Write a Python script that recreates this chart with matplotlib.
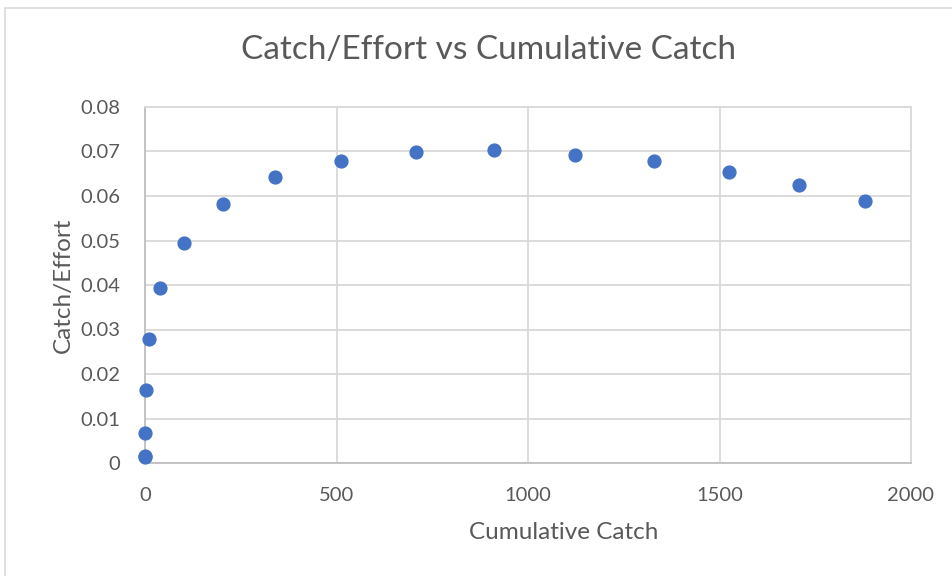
import matplotlib.pyplot as plt
from matplotlib.patches import Rectangle

# values
cum_catch = [0, 0.3, 0, 2, 11, 39, 103, 203, 340, 511, 707, 911, 1124, 1328, 1524, 1708, 1880]
catch_effort = [0.0013, 0.0016, 0.0068, 0.0165, 0.0279, 0.0394, 0.0495, 0.0581, 0.0642,
                0.0678, 0.0699, 0.0703, 0.0693, 0.0678, 0.0653, 0.0624, 0.0588]
x_ticks = [0, 500, 1000, 1500, 2000]
y_ticks = [0, 0.01, 0.02, 0.03, 0.04, 0.05, 0.06, 0.07, 0.08]
y_labels = ['0', '0.01', '0.02', '0.03', '0.04', '0.05', '0.06', '0.07', '0.08']

plt.rcParams['font.family'] = ['Lato', 'DejaVu Sans']
txt = '#595959'
grid = '#d9d9d9'

fig = plt.figure(figsize=(9.52, 5.76), dpi=100)
# chart area border (cut off on the right and bottom)
fig.patches.append(Rectangle((5 / 952, -0.1), 2, (568 + 58) / 576, transform=fig.transFigure,
                             fill=False, edgecolor='#d9d9d9', linewidth=1.2))

ax = fig.add_axes([145 / 952, 1 - 463 / 576, (911 - 145) / 952, (463 - 107) / 576])
ax.scatter(cum_catch, catch_effort, s=85, color='#4472C4', zorder=3, clip_on=False)

ax.set_xlim(0, 2000)
ax.set_ylim(0, 0.08)
ax.set_xticks(x_ticks)
ax.set_yticks(y_ticks)
ax.set_yticklabels(y_labels)
ax.grid(True, color=grid, linewidth=1.3)
ax.set_axisbelow(True)
for s in ax.spines.values():
    s.set_color(grid)
    s.set_linewidth(1.3)
ax.spines['left'].set_color('#bfbfbf')
ax.spines['bottom'].set_color('#bfbfbf')
ax.tick_params(length=0, labelsize=14.5, labelcolor=txt)
ax.tick_params(axis='x', pad=17)
ax.tick_params(axis='y', pad=18)

fig.text(489 / 952, 1 - 50 / 576, 'Catch/Effort vs Cumulative Catch', fontsize=24,
         color=txt, ha='center', va='center')
ax.set_xlabel('Cumulative Catch', fontsize=17.5, color=txt)
ax.set_ylabel('Catch/Effort', fontsize=17.5, color=txt)
ax.xaxis.set_label_coords((564 - 145) / (911 - 145), -(522 - 463) / (463 - 107))
ax.yaxis.set_label_coords(-(145 - 74) / (911 - 145), 0.5)

fig.savefig('out.png', dpi=100)
